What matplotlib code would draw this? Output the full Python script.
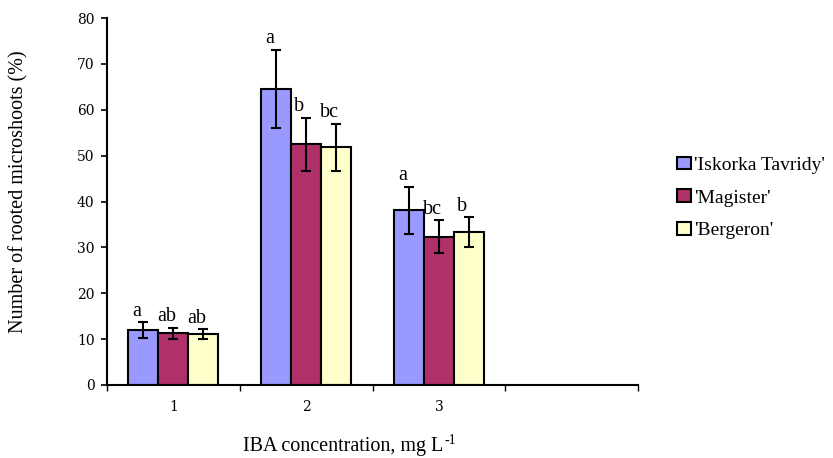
import matplotlib
matplotlib.use("Agg")
import matplotlib.pyplot as plt
import numpy as np

categories = ["1", "2", "3", ""]
series_names = ["'Iskorka Tavridy'", "'Magister'", "'Bergeron'"]
values = {
    "'Iskorka Tavridy'": [12.0, 64.6, 38.1],
    "'Magister'": [11.3, 52.5, 32.3],
    "'Bergeron'": [11.1, 51.8, 33.3],
}
errors = {
    "'Iskorka Tavridy'": [1.7, 8.5, 5.1],
    "'Magister'": [1.2, 5.8, 3.6],
    "'Bergeron'": [1.1, 5.2, 3.3],
}
letters = {
    "'Iskorka Tavridy'": ["a", "a", "a"],
    "'Magister'": ["ab", "b", "bc"],
    "'Bergeron'": ["ab", "bc", "b"],
}
colors = ["#9999FF", "#B0306A", "#FFFFCC"]

plt.rcParams['font.family'] = ['Liberation Serif', 'DejaVu Serif']

fig = plt.figure(figsize=(8.33, 4.58), dpi=100)
ax = fig.add_axes([107/833, 1-385/458, (638-107)/833, (385-18)/458])

bw = 30/133
x = np.arange(3)
for i, name in enumerate(series_names):
    xs = x + (i - 1) * bw
    ax.bar(xs, values[name], width=bw, color=colors[i], edgecolor="black",
           linewidth=1.5, label=name, zorder=2)
    ax.errorbar(xs, values[name], yerr=errors[name], fmt="none", ecolor="black",
                elinewidth=1.5, capsize=3.5, capthick=1.5, zorder=3)
    for xi, v, e, t in zip(xs, values[name], errors[name], letters[name]):
        ax.text(xi - 0.05, v + e + 0.3, t, ha="center", va="bottom", fontsize=14.5)

ax.set_xlim(-0.5, 3.5)
ax.set_ylim(0, 80)
ax.set_yticks(np.arange(0, 81, 10))
ax.set_xticks([-0.5, 0.5, 1.5, 2.5, 3.5])
ax.set_xticklabels([])
ax.set_xticks(np.arange(4), minor=True)
ax.set_xticklabels(categories, minor=True, family="DejaVu Serif")
ax.tick_params(axis="x", which="minor", length=0, pad=11, labelsize=10)
ax.tick_params(axis="x", which="major", length=4, width=1)
ax.tick_params(axis="y", length=4, width=1.2, labelsize=10, pad=5)
for lbl in ax.get_yticklabels():
    lbl.set_family("DejaVu Serif")
for s in ["top", "right"]:
    ax.spines[s].set_visible(False)
for s in ["left", "bottom"]:
    ax.spines[s].set_linewidth(1.5)

fig.text(19/833, 1-192/458, "Number of rooted microshoots (%)", rotation=90,
         ha="center", va="center", fontsize=14.5)

# x-axis title with a hyphen superscript
main = fig.text(243/833, 1-447/458, "IBA concentration, mg L", ha="left",
                va="center", fontsize=14.5)
fig.canvas.draw()
bb = main.get_window_extent(fig.canvas.get_renderer())
fig.text((bb.x1 + 1)/833, 1-441/458, "-1", ha="left", va="center", fontsize=10)

leg = fig.legend(loc="upper left", bbox_to_anchor=(659/833, 1-139/458), frameon=False,
                 fontsize=14, handlelength=0.75, handleheight=0.6, handletextpad=0.15,
                 labelspacing=0.82)
for h in leg.legend_handles:
    h.set_linewidth(1.5)

fig.savefig("out.png", dpi=100)
